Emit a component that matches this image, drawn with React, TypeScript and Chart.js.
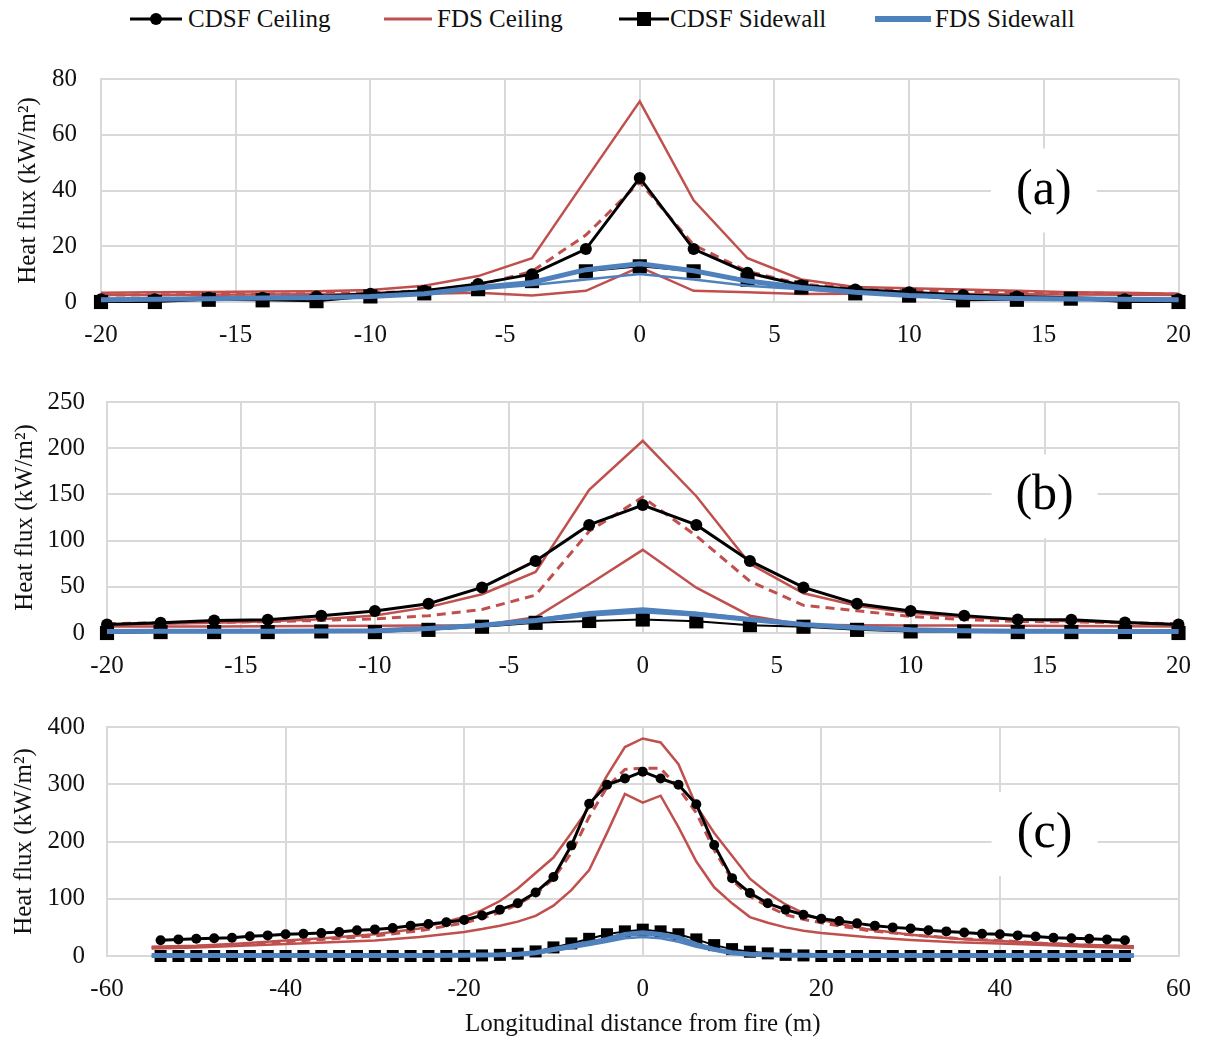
import React, { useEffect, useRef } from "react";
import { Chart, registerables } from "chart.js";
Chart.register(...registerables);

const FONT = '"Liberation Serif", "Times New Roman", "DejaVu Serif", "Noto Serif", serif';
const RED = "#C0504D";
const BLUE = "#4F81BD";
const GRID = "#D9D9D9";

// ---------- Panel (a) ----------
const xAB = [-20, -18, -16, -14, -12, -10, -8, -6, -4, -2, 0, 2, 4, 6, 8, 10, 12, 14, 16, 18, 20];
const aCdsfCeiling = [1, 1, 1.5, 1.5, 2, 3, 4, 6.5, 10, 19, 44.5, 19, 10.5, 6, 4.5, 3.5, 2.5, 2, 1.5, 1, 1];
const aFdsCeilUpper = [3.3, 3.5, 3.6, 3.8, 3.9, 4.3, 5.8, 9.3, 15.7, 44, 72, 36.5, 15.7, 8.1, 5.4, 4.9, 4.5, 4, 3.5, 3.3, 3];
const aFdsCeilDashed = [2.5, 2.6, 2.7, 2.8, 3, 3.3, 4, 6, 11, 24, 43, 20.5, 11, 6.4, 5, 4.3, 3.8, 3.5, 3.3, 3, 2.8];
const aFdsCeilLower = [2.5, 2.5, 2.6, 2.7, 2.8, 2.9, 3, 3.3, 2.3, 4, 12.5, 4, 3.5, 2.9, 3, 3, 2.9, 2.8, 2.7, 2.6, 2.5];
const aCdsfSide = [0, 0, 0.8, 0.6, 0.3, 2, 3.1, 4.6, 7.5, 11, 12.8, 11, 8, 5.2, 3.1, 2.3, 0.6, 0.8, 1.2, 0, 0];
const aFdsSideThick = [0.8, 1, 1.2, 1.4, 1.6, 2, 3, 5.2, 7, 11.6, 13.7, 11.2, 7.5, 5.2, 3.5, 2.3, 1.7, 1.3, 1.1, 1, 0.8];
const aFdsSideThin = [0.8, 0.9, 1.1, 1.3, 1.5, 1.9, 2.8, 4.6, 6.1, 8.1, 10, 8.1, 5.8, 4.6, 3.3, 2.2, 1.6, 1.2, 1, 0.9, 0.8];

// ---------- Panel (b) ----------
const bCdsfCeiling = [9.2, 11, 13.6, 14.3, 18.7, 23.8, 31.6, 49.3, 78, 117, 138.5, 117, 78, 49.3, 31.7, 23.9, 18.8, 14.7, 14.3, 11.3, 9.2];
const bFdsCeilUpper = [9, 10, 11, 12.6, 15, 19, 28, 42, 66, 155, 208, 148, 75, 43, 29.6, 22, 17, 14.7, 12.6, 11.3, 9.2];
const bFdsCeilDashed = [10, 11, 11.5, 12.3, 13.6, 15.3, 18.7, 25.5, 41, 110, 147, 105, 56, 30, 24, 18, 14.5, 12.6, 12, 11, 10];
const bFdsCeilLower = [7, 7, 7, 7.2, 7.5, 7.8, 8, 8.5, 17, 52.7, 90, 49, 18.7, 9, 8.5, 8, 8, 7.8, 7.5, 7.2, 7];
const bCdsfSide = [0, 1, 1, 1, 1.7, 1, 3.4, 6.8, 11, 13, 14.6, 12.6, 8.5, 6.8, 3.4, 1.7, 1.7, 1, 1, 1, 0];
const bFdsSideThick = [1.7, 1.8, 1.9, 2, 2.2, 2.4, 5, 8.5, 13.6, 20.4, 23.8, 20.4, 14.6, 9.2, 5.8, 3.4, 2.5, 2, 2, 1.7, 1.7];
const bFdsSideThin = [2, 2.1, 2.2, 2.3, 2.5, 2.8, 5.5, 9, 14.5, 22.5, 26.5, 22, 15.5, 9.5, 6, 3.6, 2.7, 2.2, 2.1, 2, 2];

// ---------- Panel (c) ----------
const xC_cdsf = [
  -54, -52, -50, -48, -46, -44, -42, -40, -38, -36, -34, -32, -30, -28, -26, -24, -22, -20, -18, -16, -14, -12, -10, -8, -6, -4, -2,
  0, 2, 4, 6, 8, 10, 12, 14, 16, 18, 20, 22, 24, 26, 28, 30, 32, 34, 36, 38, 40, 42, 44, 46, 48, 50, 52, 54,
];
const cCdsfCeiling = [
  27.6, 29, 30, 31, 32, 34.5, 36, 38, 39, 40, 42, 45, 46.5, 49, 53, 56, 59, 63, 70.7, 81, 92, 111, 138, 193, 266, 299, 310,
  322, 310, 299, 265, 194, 136, 110, 92, 81, 72, 65, 61, 57, 53, 50, 48, 45, 43, 41, 39, 38, 36, 34, 32, 31, 30, 29, 27.6,
];
const cCdsfSide = [
  0, 0, 0, 0, 0, 0, 0, 0, 0, 0, 0, 0, 0, 0, 0, 0, 0, 0, 1, 2, 4, 8, 15, 22, 30, 38, 43,
  46, 43, 38, 29, 19, 12, 7.5, 4.6, 2, 1, 0, 0, 0, 0, 0, 0, 0, 0, 0, 0, 0, 0, 0, 0, 0, 0, 0, 0,
];
const xC_fds = [-55, -50, -45, -40, -35, -30, -25, -20, -18, -16, -14, -12, -10, -8, -6, -4, -2, 0, 2, 4, 6, 8, 10, 12, 14, 16, 18, 20, 25, 30, 35, 40, 45, 50, 55];
const cFdsCeilUpper = [16, 18, 22, 27, 32, 38, 48, 68, 80, 96, 118, 145, 172, 215, 260, 315, 365, 380, 373, 335, 262, 215, 175, 135, 110, 90, 75, 63, 47, 37, 30, 26, 22, 19, 17];
const cFdsCeilDashed = [15, 17, 20, 25, 30, 35, 44, 58, 66, 76, 90, 108, 135, 180, 243, 295, 326, 328, 328, 293, 250, 185, 133, 104, 87, 72, 64, 58, 45, 37, 31, 27, 22, 19, 16];
const cFdsCeilLower = [13, 15, 18, 21, 24, 27, 33, 42, 47, 53, 60, 70, 88, 115, 150, 215, 283, 268, 280, 225, 165, 120, 92, 68, 58, 50, 44, 40, 33, 28, 24, 22, 19, 16, 14];
const cFdsSideThick = [1, 1, 1, 1, 1, 1, 1, 1.5, 1.8, 2, 3, 5.8, 11.6, 17, 23, 29, 37.7, 40.6, 37.7, 32, 20, 11.6, 5.8, 3, 2, 1.5, 1.2, 1, 1, 1, 1, 1, 1, 1, 1];
const cFdsSideThin = [0.5, 0.5, 0.5, 0.5, 0.5, 0.5, 0.5, 1, 1.3, 1.6, 2.3, 4.5, 9, 14, 19, 25, 31, 33, 31, 25, 16, 10, 5, 2.5, 1.6, 1.2, 1, 0.8, 0.5, 0.5, 0.5, 0.5, 0.5, 0.5, 0.5];

const legendLabels = ["CDSF Ceiling", "FDS Ceiling", "CDSF Sidewall", "FDS Sidewall"];
const yTitle = "Heat flux (kW/m\u00B2)";
const xTitle = "Longitudinal distance from fire (m)";

const pts = (xs: number[], ys: number[]) => xs.map((x, i) => ({ x, y: ys[i] }));

function buildDatasets(
  xCdsf: number[], xFds: number[],
  ceil: number[], up: number[], dash: number[], low: number[],
  side: number[], thick: number[], thin: number[],
  circleR: number, rectR: number
) {
  const line = { pointRadius: 0, pointHoverRadius: 0, tension: 0, fill: false, clip: false };
  return [
    { ...line, label: "FDS Sidewall", data: pts(xFds, thick), borderColor: BLUE, borderWidth: 5 },
    { ...line, label: "FDS Sidewall (2)", data: pts(xFds, thin), borderColor: BLUE, borderWidth: 2.5 },
    {
      label: "CDSF Sidewall", data: pts(xCdsf, side), borderColor: "#000", borderWidth: 2, clip: false,
      pointStyle: "rect", pointRadius: rectR, pointBackgroundColor: "#000", pointBorderColor: "#000", pointBorderWidth: 0, tension: 0, fill: false,
    },
    {
      label: "CDSF Ceiling", data: pts(xCdsf, ceil), borderColor: "#000", borderWidth: 3, clip: false,
      pointStyle: "circle", pointRadius: circleR, pointBackgroundColor: "#000", pointBorderColor: "#000", pointBorderWidth: 0, tension: 0, fill: false,
    },
    { ...line, label: "FDS Ceiling (dashed)", data: pts(xFds, dash), borderColor: RED, borderWidth: 3, borderDash: [9, 6] },
    { ...line, label: "FDS Ceiling", data: pts(xFds, up), borderColor: RED, borderWidth: 2.5 },
    { ...line, label: "FDS Ceiling (2)", data: pts(xFds, low), borderColor: RED, borderWidth: 2.5 },
  ];
}

type PanelProps = {
  top: number;
  height: number;
  area: { left: number; right: number; top: number; bottom: number };
  datasets: any[];
  xMin: number; xMax: number; xStep: number;
  yMax: number; yStep: number;
  tag: string; tagX: number; tagY: number;
  yTitlePad: number; yTickPad: number; xTickPad: number;
  showXTitle?: boolean;
};

function Panel(p: PanelProps) {
  const ref = useRef<HTMLCanvasElement>(null);
  useEffect(() => {
    const canvas = ref.current;
    if (!canvas) return;
    const tagPlugin = {
      id: "panelTag",
      beforeDatasetsDraw(chart: any) {
        const { ctx, scales } = chart;
        const x = scales.x.getPixelForValue(p.tagX);
        const y = scales.y.getPixelForValue(p.tagY);
        ctx.save();
        ctx.fillStyle = "#fff";
        ctx.fillRect(x - 53, y - 42, 106, 84);
        ctx.fillStyle = "#000";
        ctx.font = `50px ${FONT}`;
        ctx.textAlign = "center";
        ctx.textBaseline = "middle";
        ctx.fillText(p.tag, x, y);
        ctx.restore();
      },
    };
    const tickFont = { family: FONT, size: 25 };
    const chart = new Chart(canvas, {
      type: "line",
      data: { datasets: p.datasets },
      options: {
        animation: false,
        responsive: false,
        maintainAspectRatio: false,
        layout: { padding: { top: p.area.top - p.top, right: 1209 - p.area.right, left: 0, bottom: 0 } },
        plugins: { legend: { display: false }, tooltip: { enabled: false } },
        scales: {
          x: {
            type: "linear",
            min: p.xMin,
            max: p.xMax,
            ticks: { stepSize: p.xStep, font: tickFont, color: "#111", padding: p.xTickPad, maxRotation: 0 },
            grid: { color: GRID, lineWidth: 2, drawTicks: false },
            border: { color: GRID, width: 2 },
            title: {
              display: !!p.showXTitle,
              text: xTitle,
              font: tickFont,
              color: "#111",
              padding: { top: 0, bottom: 7 },
            },
            afterFit: (s: any) => {
              s.height = p.height - (p.area.bottom - p.top);
            },
          },
          y: {
            min: 0,
            max: p.yMax,
            ticks: { stepSize: p.yStep, font: tickFont, color: "#111", padding: p.yTickPad },
            grid: { color: GRID, lineWidth: 2, drawTicks: false },
            border: { color: GRID, width: 2 },
            title: { display: true, text: yTitle, font: tickFont, color: "#111", padding: { top: p.yTitlePad, bottom: 0 } },
            afterFit: (s: any) => {
              s.width = p.area.left;
            },
          },
        },
      } as any,
      plugins: [tagPlugin],
    });
    return () => chart.destroy();
  }, []);
  return (
    <canvas
      ref={ref}
      width={1209}
      height={p.height}
      style={{ position: "absolute", left: 0, top: p.top, width: 1209, height: p.height }}
    />
  );
}

function Legend() {
  const text = (left: number, label: string) => (
    <div
      style={{
        position: "absolute", left, top: 0, height: 38, lineHeight: "38px",
        fontFamily: FONT, fontSize: 25, color: "#111", whiteSpace: "nowrap",
      }}
    >
      {label}
    </div>
  );
  return (
    <>
      <svg style={{ position: "absolute", left: 128, top: 9 }} width={56} height={20}>
        <line x1={2} y1={10} x2={54} y2={10} stroke="#000" strokeWidth={3} />
        <circle cx={28} cy={10} r={6} fill="#000" />
      </svg>
      {text(188, legendLabels[0])}
      <svg style={{ position: "absolute", left: 382, top: 9 }} width={52} height={20}>
        <line x1={2} y1={10} x2={50} y2={10} stroke={RED} strokeWidth={3} />
      </svg>
      {text(437, legendLabels[1])}
      <svg style={{ position: "absolute", left: 617, top: 9 }} width={54} height={20}>
        <line x1={2} y1={10} x2={52} y2={10} stroke="#000" strokeWidth={3} />
        <rect x={20} y={3} width={14} height={14} fill="#000" />
      </svg>
      {text(670, legendLabels[2])}
      <svg style={{ position: "absolute", left: 873, top: 9 }} width={60} height={20}>
        <line x1={2} y1={10} x2={58} y2={10} stroke={BLUE} strokeWidth={6} />
      </svg>
      {text(935, legendLabels[3])}
    </>
  );
}

export default function App() {
  const dsA = buildDatasets(xAB, xAB, aCdsfCeiling, aFdsCeilUpper, aFdsCeilDashed, aFdsCeilLower, aCdsfSide, aFdsSideThick, aFdsSideThin, 6, 10);
  const dsB = buildDatasets(xAB, xAB, bCdsfCeiling, bFdsCeilUpper, bFdsCeilDashed, bFdsCeilLower, bCdsfSide, bFdsSideThick, bFdsSideThin, 6, 10);
  const dsC = buildDatasets(xC_cdsf, xC_fds, cCdsfCeiling, cFdsCeilUpper, cFdsCeilDashed, cFdsCeilLower, cCdsfSide, cFdsSideThick, cFdsSideThin, 5, 8.5);
  return (
    <div style={{ position: "absolute", left: 0, top: 0, width: 1209, height: 1046, background: "#fff", overflow: "hidden" }}>
      <Legend />
      <Panel
        top={40} height={325}
        area={{ left: 101, right: 1183, top: 73, bottom: 302 }}
        datasets={dsA}
        xMin={-20} xMax={20} xStep={5} yMax={80} yStep={20}
        tag="(a)" tagX={15} tagY={40}
        yTitlePad={13} yTickPad={24} xTickPad={18}
      />
      <Panel
        top={365} height={320}
        area={{ left: 107, right: 1181, top: 389, bottom: 633 }}
        datasets={dsB}
        xMin={-20} xMax={20} xStep={5} yMax={250} yStep={50}
        tag="(b)" tagX={15} tagY={148}
        yTitlePad={10} yTickPad={22} xTickPad={18}
      />
      <Panel
        top={690} height={356}
        area={{ left: 107, right: 1180, top: 725, bottom: 956 }}
        datasets={dsC}
        xMin={-60} xMax={60} xStep={20} yMax={400} yStep={100}
        tag="(c)" tagX={45} tagY={213}
        yTitlePad={9} yTickPad={22} xTickPad={18}
        showXTitle
      />
    </div>
  );
}
